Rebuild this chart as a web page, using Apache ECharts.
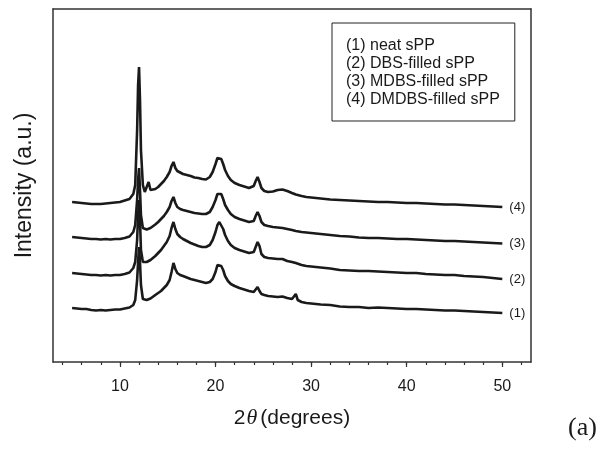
<!DOCTYPE html>
<html>
<head>
<meta charset="utf-8">
<script src="https://cdn.jsdelivr.net/npm/echarts@6/dist/echarts.min.js"></script>
<style>
html,body{margin:0;padding:0;background:#fff;}
#chart{width:606px;height:449px;}
</style>
</head>
<body>
<div id="chart"></div>
<script>
// 2-theta sampling positions (degrees)
const twoTheta = [5,5.5,6,6.5,7,7.5,8,8.5,9,9.5,10,10.5,11,11.2,11.4,11.6,11.8,11.9,12.0,12.1,12.2,12.4,12.6,12.8,13.0,13.2,13.4,13.7,14.0,14.3,14.6,14.9,15.2,15.4,15.6,15.8,16.0,16.3,16.6,17.0,17.4,17.8,18.2,18.6,19.0,19.4,19.7,20.0,20.2,20.4,20.6,20.8,21.0,21.3,21.6,22.0,22.5,23.0,23.5,24.0,24.2,24.4,24.6,24.8,25.1,25.5,26.0,26.5,27.0,27.5,28.0,28.2,28.4,28.6,29.0,29.5,30,31,32,33,34,35,36,37,38,39,40,41,42,43,44,45,46,47,48,49,50];

// Intensities (a.u., vertically offset as in the figure)
const neatSPP = [54,53.5,53,53,52,51.5,52,51.5,52,52.5,52.5,53.5,54.5,55.5,57,62,82,100,115,100,77,63,61,62,63,63.5,65,67,69,71,74,77,82,90,99,93,89,87,86,84.5,83,82,81,80,79,80,83,90,97,99,96,92,86,81,78,76,74,72.5,71,70,72,75,71,68,67,66,65.5,65,65.5,64,63,64,68,62,60,59,58.5,57.5,57,55.5,55,55,54,54.5,54,53.5,53,53,52.5,52,51.5,51.5,51,50.5,50,49.5,49];
const dbsSPP = [89,88.5,88,87.5,87,87,86.5,87,86.5,87,87,88,89.5,91,94,100,122,147,162,142,112,100,99,100,101,102,103.5,106,109,112,116,120,126,134,140,133,128,125,123,121,119,117.5,116,115,115,117,122,130,137,140,138,133,127,121,117,114,112,110.5,109,110,115,120,116,108,105,104,103.5,103,103,101,100,99,99,98,97,96,95.5,94.5,93.5,92,91.5,91,91,90.5,90,89.5,89,89,88,87.5,87,87,86,85.5,85,84,83];
const mdbsSPP = [125,124.5,124,123.5,123,123,122.5,123,122.5,123,123,124,125.5,127,130,137,162,182,194,172,147,134,132,132.5,133,134,135.5,137.5,140,143,146,150,155,161,165,159,155,153,152,151,150,149,148.5,148,148,150,155,162,168,170,168,163,157,152,148,145,143,141.5,140,141,146,150,146,140,137,136,135,134.5,134,133,132,131.5,131,131,130,129.5,129,128,127,126,125.5,124.5,124,124,123.5,123,123,122.5,122,121.5,121,121,120.5,120,119.5,119,118.5];
const dmdbsSPP = [160,159.5,159,158.5,158,158,158,158.5,159,159.5,160,161.5,163,164.5,168,177,232,277,295,262,212,177,170,172,180,172,171,173,175,178,181,185,190,196,200,194,191,189.5,188,187,186,184.5,184,183,182.5,185,190,198,204,206,203,198,192,186,182,179,177,175.5,174,176,181,185,180,174,171,170,170.5,172,172.5,171,169,168,167.5,167,166,165,164.5,163.5,162.5,162,161.5,161,160.5,160,160,159.5,159,159,158.5,158,157.5,157.5,157,156.5,156,155.5,155];

const seriesNames = ['(1) neat sPP','(2) DBS-filled sPP','(3) MDBS-filled sPP','(4) DMDBS-filled sPP'];
const curveTags = ['(1)','(2)','(3)','(4)'];
const seriesValues = [neatSPP, dbsSPP, mdbsSPP, dmdbsSPP];

const majorTicks = [10,20,30,40,50];
const minorTicks = [4,6,8,10,12,14,16,18,20,22,24,26,28,30,32,34,36,38,40,42,44,46,48,50,52];

const chart = echarts.init(document.getElementById('chart'), null, {renderer:'canvas'});
const font = 'Liberation Sans, Arial, sans-serif';
const serif = 'Liberation Serif, Times New Roman, serif';
const ink = '#1a1a1a';

const series = seriesValues.map((vals, k) => ({
  name: seriesNames[k],
  type: 'line',
  xAxisIndex: 0,
  yAxisIndex: 0,
  data: twoTheta.map((x, i) => [x, vals[i]]),
  showSymbol: false,
  symbol: 'none',
  lineStyle: {color: ink, width: 2.6},
  itemStyle: {color: ink},
  endLabel: {
    show: true,
    formatter: () => curveTags[k],
    color: ink,
    fontFamily: font,
    fontSize: 13,
    distance: 7
  },
  emphasis: {disabled: true},
  animation: false
}));

chart.setOption({
  backgroundColor: '#fff',
  animation: false,
  title: {
    text: '(a)',
    left: 568,
    top: 415,
    padding: 0,
    textStyle: {fontFamily: serif, fontSize: 26, fontWeight: 'normal', color: ink}
  },
  legend: {
    orient: 'vertical',
    left: 332,
    top: 23,
    icon: 'none',
    itemWidth: 0,
    itemHeight: 10,
    itemGap: 0,
    padding: [14, 15, 12, 9],
    borderColor: '#222',
    borderWidth: 1,
    selectedMode: false,
    textStyle: {fontFamily: font, fontSize: 16, lineHeight: 18, color: ink},
    data: seriesNames
  },
  grid: {left: 53, top: 9, width: 478, height: 353, containLabel: false},
  xAxis: [
    {
      type: 'value', position: 'bottom', min: 3, max: 53,
      name: '2{i|θ}(degrees)',
      nameLocation: 'middle',
      nameGap: 45,
      nameTextStyle: {
        fontFamily: font, fontSize: 21, color: ink,
        rich: {i: {fontFamily: serif, fontStyle: 'italic', fontSize: 22, color: ink, padding: [0, 3, 0, 1]}}
      },
      axisLine: {show: true, lineStyle: {color: '#333', width: 1.5}},
      axisTick: {show: true, customValues: minorTicks, length: 3, inside: false, lineStyle: {color: '#333', width: 1.2}},
      axisLabel: {show: true, customValues: majorTicks, margin: 17, fontFamily: font, fontSize: 16, color: ink},
      splitLine: {show: false}
    },
    {
      type: 'value', position: 'bottom', min: 3, max: 53,
      axisLine: {show: false},
      axisTick: {show: true, customValues: majorTicks, length: 5, lineStyle: {color: '#333', width: 1.2}},
      axisLabel: {show: false},
      splitLine: {show: false}
    },
    {
      type: 'value', position: 'top', min: 3, max: 53,
      axisLine: {show: true, lineStyle: {color: '#333', width: 1.5}},
      axisTick: {show: false},
      axisLabel: {show: false},
      splitLine: {show: false}
    }
  ],
  yAxis: [
    {
      type: 'value', position: 'left', min: 0, max: 353,
      name: 'Intensity (a.u.)',
      nameLocation: 'middle',
      nameGap: 17,
      nameTextStyle: {fontFamily: font, fontSize: 23, color: ink},
      axisLine: {show: true, lineStyle: {color: '#333', width: 1.5}},
      axisTick: {show: false},
      axisLabel: {show: false},
      splitLine: {show: false}
    },
    {
      type: 'value', position: 'right', min: 0, max: 353,
      axisLine: {show: true, lineStyle: {color: '#333', width: 1.5}},
      axisTick: {show: false},
      axisLabel: {show: false},
      splitLine: {show: false}
    }
  ],
  series: series
});
</script>
</body>
</html>
